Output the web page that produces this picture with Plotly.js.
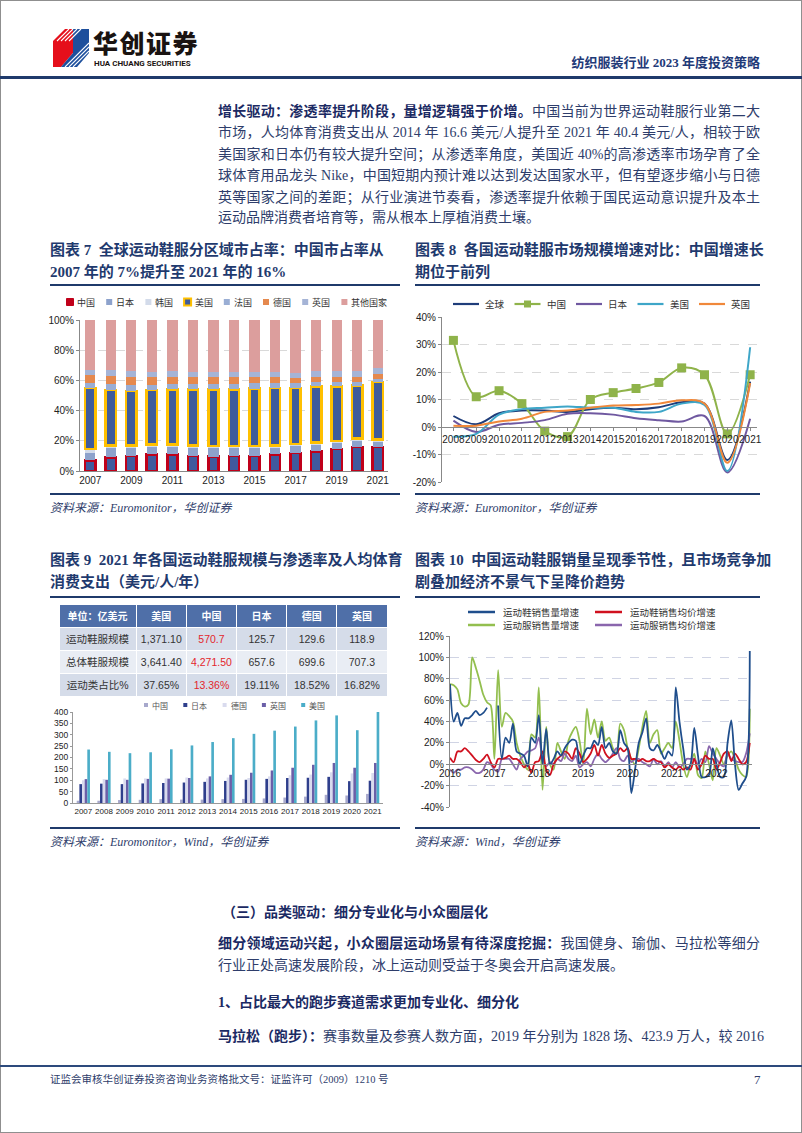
<!DOCTYPE html>
<html><head><meta charset="utf-8">
<script src="https://cdn.plot.ly/plotly-3.0.1.min.js"></script>
<style>
html,body{margin:0;padding:0;background:#fff;}
#page{position:relative;width:802px;height:1133px;overflow:hidden;font-family:"Liberation Serif","Noto Sans CJK SC",serif;color:#2e3d6b;}
.frame{position:absolute;left:0;top:0;width:800px;height:1131px;border:1px solid #8f8f8f;}
.t{position:absolute;white-space:nowrap;line-height:20px;font-size:14px;}
.j{text-align:justify;text-align-last:justify;width:542px;}
.b{font-weight:bold;color:#1b2a63;}
.rule{position:absolute;height:2px;background:#1f3a6b;}
.ct{position:absolute;white-space:nowrap;line-height:20px;font-weight:bold;font-size:15px;color:#1f3a6e;}
.src{position:absolute;white-space:nowrap;font-style:italic;font-size:12px;line-height:16px;color:#2e3d6b;}
.chart{position:absolute;}
</style></head>
<body><div id="page">
<div class="frame"></div>
<svg style="position:absolute;left:53px;top:29px" width="36" height="38" viewBox="0 0 36 38">
<polygon points="0,12 12,0 20,0 20,24 8,38 0,38" fill="#e50f1b"/>
<polygon points="20,0 36,0 36,24 24,38 8,38 20,24" fill="#1d4f9c"/>
<g stroke="#fff" stroke-width="1.1">
<line x1="4" y1="12" x2="16" y2="0"/><line x1="8" y1="12" x2="20" y2="0"/><line x1="12" y1="12" x2="24" y2="0"/><line x1="16" y1="12" x2="28" y2="0"/>
<line x1="12" y1="38" x2="36" y2="14"/><line x1="16" y1="38" x2="36" y2="18"/><line x1="20" y1="38" x2="36" y2="22"/>
</g></svg>
<div style="position:absolute;left:93px;top:30px;font-family:'Noto Sans CJK SC';font-weight:900;font-size:25px;line-height:25px;height:25px;color:#1a1311;letter-spacing:1.5px">华创证券</div>
<div style="position:absolute;left:94px;top:60px;font-family:'Roboto','Liberation Sans';font-weight:bold;font-size:8px;line-height:8px;color:#1a1311;">HUA CHUANG SECURITIES</div>
<div style="position:absolute;right:42px;top:54px;font-family:'Liberation Serif','Noto Sans CJK SC';font-weight:bold;font-size:13px;line-height:18px;color:#1f3a78;">纺织服装行业 2023 年度投资策略</div>
<div class="rule" style="left:0;top:76px;width:802px;height:3px;"></div>

<div class="t j" style="left:218px;top:102px"><span class="b">增长驱动：渗透率提升阶段，量增逻辑强于价增。</span>中国当前为世界运动鞋服行业第二大</div>
<div class="t j" style="left:218px;top:123px">市场，人均体育消费支出从 2014 年 16.6 美元/人提升至 2021 年 40.4 美元/人，相较于欧</div>
<div class="t j" style="left:218px;top:145px">美国家和日本仍有较大提升空间；从渗透率角度，美国近 40%的高渗透率市场孕育了全</div>
<div class="t j" style="left:218px;top:166px">球体育用品龙头 Nike，中国短期内预计难以达到发达国家水平，但有望逐步缩小与日德</div>
<div class="t j" style="left:218px;top:188px">英等国家之间的差距；从行业演进节奏看，渗透率提升依赖于国民运动意识提升及本土</div>
<div class="t" style="left:218px;top:208px">运动品牌消费者培育等，需从根本上厚植消费土壤。</div>

<div class="ct" style="left:50px;top:240px">图表 7&nbsp;&nbsp;全球运动鞋服分区域市占率：中国市占率从</div>
<div class="ct" style="left:50px;top:262px">2007 年的 7%提升至 2021 年的 16%</div>
<div class="ct" style="left:415px;top:240px">图表 8&nbsp;&nbsp;各国运动鞋服市场规模增速对比：中国增速长</div>
<div class="ct" style="left:415px;top:262px">期位于前列</div>
<div class="rule" style="left:50px;top:284px;width:350px"></div>
<div class="rule" style="left:415px;top:284px;width:345px"></div>
<div class="rule" style="left:50px;top:493px;width:350px"></div>
<div class="rule" style="left:415px;top:493px;width:345px"></div>
<div class="src" style="left:50px;top:500px">资料来源：Euromonitor，华创证券</div>
<div class="src" style="left:415px;top:500px">资料来源：Euromonitor，华创证券</div>

<div class="ct" style="left:50px;top:550px">图表 9&nbsp;&nbsp;2021 年各国运动鞋服规模与渗透率及人均体育</div>
<div class="ct" style="left:50px;top:572px">消费支出（美元/人/年）</div>
<div class="ct" style="left:415px;top:550px">图表 10&nbsp;&nbsp;中国运动鞋服销量呈现季节性，且市场竞争加</div>
<div class="ct" style="left:415px;top:572px">剧叠加经济不景气下呈降价趋势</div>
<div class="rule" style="left:50px;top:596px;width:350px"></div>
<div class="rule" style="left:415px;top:596px;width:345px"></div>
<div class="rule" style="left:50px;top:827px;width:350px"></div>
<div class="rule" style="left:415px;top:827px;width:345px"></div>
<div class="src" style="left:50px;top:834px">资料来源：Euromonitor，Wind，华创证券</div>
<div class="src" style="left:415px;top:834px">资料来源：Wind，华创证券</div>

<div class="t b" style="left:222px;top:903px">（三）品类驱动：细分专业化与小众圈层化</div>
<div class="t j" style="left:218px;top:934px"><span class="b">细分领域运动兴起，小众圈层运动场景有待深度挖掘：</span>我国健身、瑜伽、马拉松等细分</div>
<div class="t" style="left:218px;top:956px">行业正处高速发展阶段，冰上运动则受益于冬奥会开启高速发展。</div>
<div class="t b" style="left:218px;top:993px">1、占比最大的跑步赛道需求更加专业化、细分化</div>
<div class="t j" style="left:218px;top:1027px"><span class="b">马拉松（跑步）：</span>赛事数量及参赛人数方面，2019 年分别为 1828 场、423.9 万人，较 2016</div>

<div class="rule" style="left:0;top:1065px;width:802px;background:#2d4a7c"></div>
<div style="position:absolute;left:50px;top:1072px;font-size:10.5px;line-height:16px;color:#2e3d6b;white-space:nowrap">证监会审核华创证券投资咨询业务资格批文号：证监许可（2009）1210 号</div>
<div style="position:absolute;left:754px;top:1071px;font-size:13px;line-height:18px;color:#2e3d6b;">7</div>

<div id="c7" class="chart"></div>
<div id="c8" class="chart"></div>
<div id="c9" class="chart"></div>
<div id="c10" class="chart"></div>
</div>
<script>
// ---------------- Chart 7 data: market share (%) ----------------
var years7 = ['2007','2008','2009','2010','2011','2012','2013','2014','2015','2016','2017','2018','2019','2020','2021'];
var names7 = ['中国','日本','韩国','美国','法国','德国','英国','其他国家'];
var shareChina   = [7,9,10,11,11,10,9.5,10,10,11,12,13,14.5,16,16];
var shareJapan   = [5,6,5.5,5,5,5.5,5.5,5,5,4.5,4.5,4.5,4,4,3.5];
var shareKorea   = [2.5,2,1.5,1.5,1.5,1.5,1.5,1.5,1.5,1.5,1.5,1.5,1.5,1.5,1.5];
var shareUSA     = [40.5,36.5,36,36,36.5,37,37.5,37.5,38,38,37,37,36,35,38];
var shareFrance  = [3.5,4,4,3.5,3.5,3.5,3.5,3.5,3.5,3,3,3,3,2.5,2];
var shareGermany = [5,5.5,5,5,5,4.5,4.5,4.5,4,4,3.5,3.5,3.5,3.5,3.5];
var shareUK      = [3.5,4,4,3.5,3.5,3.5,3.5,3.5,3.5,3.5,3.5,3.5,3.5,3.5,3.5];
var shareOthers  = [33,33,34,34.5,34,34.5,34.5,34.5,34.5,34.5,35,34,34,34,32];
var ticks7 = ['2007','2009','2011','2013','2015','2017','2019','2021'];

// ---------------- Chart 8 data: growth (%) ----------------
var years8 = ['2008','2009','2010','2011','2012','2013','2014','2015','2016','2017','2018','2019','2020','2021'];
var names8 = ['全球','中国','日本','美国','英国'];
var growthGlobal = [4,1,5,6,6,5.5,6.5,7,6.5,7.2,9,8.5,-12,16.5];
var growthChina  = [31.5,11,13.2,8.5,-1.5,-3.5,10,12.5,14,16.2,21.5,19,-2.5,19];
var growthJapan  = [2.3,-1.8,0.8,1.5,2.5,4.8,5,4.5,3.2,2.5,2,4,-16.5,3];
var growthUSA    = [-3.5,-2.5,4.5,6.5,7,7.5,7,7,5.5,5.5,8.5,8,-16,29];
var growthUK     = [0.5,0.5,2,3,5.5,6,7,7.8,8,8.5,9.7,8.5,-13,16];
var ticks8 = [-20,-10,0,10,20,30,40];
var tickText8 = ['-20%','-10%','0%','10%','20%','30%','40%'];

// ---------------- Chart 9 data ----------------
var tableHeader = ['单位：亿美元','美国','中国','日本','德国','英国'];
var tableRows = ['运动鞋服规模','总体鞋服规模','运动类占比%'];
var sportSize = ['1,371.10','570.7','125.7','129.6','118.9'];
var totalSize = ['3,641.40','4,271.50','657.6','699.6','707.3'];
var sportShare = ['37.65%','13.36%','19.11%','18.52%','16.82%'];
var years9 = ['2007','2008','2009','2010','2011','2012','2013','2014','2015','2016','2017','2018','2019','2020','2021'];
var names9 = ['中国','日本','德国','英国','美国'];
var perChina   = [10,10,13,14,17,15,15,17,18,20,24,28,36,33,40];
var perJapan   = [83,85,83,86,88,90,93,97,102,106,110,111,115,96,98];
var perGermany = [100,105,108,108,108,112,108,112,110,117,122,125,135,130,132];
var perUK      = [105,102,102,106,107,110,117,124,133,143,155,168,176,155,176];
var perUSA     = [235,225,219,223,236,253,268,285,304,318,336,363,385,320,400];

// ---------------- Chart 10 data: monthly growth (%), 2016-01 onward ----------------
var names10 = ['运动鞋销售量增速','运动鞋销售均价增速','运动服销售量增速','运动服销售均价增速'];
var shoeVol = [75,40,48,36,43,43,46,50,46,48, 53,null,null,55,5,25,20,38,12,10, 8,-2,25,20,46,0,33,0,5,12, 8,15,20,23,22,0,8,15,15,22, 18,35,15,20,12,10,32,20,15,-27, -5,20,30,43,15,13,18,12,5,12, 8,72,40,15,-5,0,34,8,-12,-12, -10,15,0,-12,-12,20,41,0,-24,-18, -12,106];
var shoePrice = [6,2,12,12,15,12,8,4,2,5, 9,2,-3,5,5,6,8,5,5,2, -3,0,-8,2,3,12,-5,-10,0,5, 8,12,10,5,15,10,2,5,10,18, 8,18,10,6,8,10,15,12,15,5, 5,3,5,3,3,5,3,2,-3,0, -3,-5,-2,-5,-3,-5,5,-5,0,8, 5,5,-5,2,10,12,3,10,5,0, 2,20];
var clothVol = [75,74,70,57,54,56,100,90,78,65, 58,55,5,88,35,48,45,40,20,8, 0,-5,28,25,72,-24,35,0,-5,20, 12,5,22,30,35,22,0,52,28,42, 25,40,22,25,15,10,38,32,15,5, 0,15,35,50,20,28,32,10,15,20, 15,40,22,0,-12,0,10,-10,-13,12, 0,-15,15,8,0,8,12,5,-5,-10, -12,52];
var clothPrice = [-5,-8,-5,-5,-3,-3,-5,-8,-8,-5, 2,0,-5,-7,5,5,5,0,-5,5, 8,12,13,15,25,5,-2,2,0,5, 3,10,5,3,8,-3,0,2,-2,5, 10,5,2,5,10,15,5,3,8,2, 5,5,2,0,-2,5,0,3,-2,2, -3,2,-3,0,5,5,5,0,5,2, 17,10,5,0,-2,10,5,3,2,2, 10,29];
var yearTicks10 = [0,12,24,36,48,60,72];
var yearLabels10 = ['2016','2017','2018','2019','2020','2021','2022'];
var ticks10 = [-40,-20,0,20,40,60,80,100,120];
var tickText10 = ['-40%','-20%','0%','20%','40%','60%','80%','100%','120%'];

// ---------------- helpers ----------------
function pw(f){return f.w-f.m.l-f.m.r;}
function ph(f){return f.h-f.m.t-f.m.b;}
function PX(f,X){return (X-f.l-f.m.l)/pw(f);}
function PY(f,Y){return (f.t+f.h-f.m.b-Y)/ph(f);}
function sq(f,X,Y,s,fill,line,lw){return {type:'rect',xref:'paper',yref:'paper',x0:PX(f,X-s/2),x1:PX(f,X+s/2),y0:PY(f,Y+s/2),y1:PY(f,Y-s/2),fillcolor:fill,line:{color:line||fill,width:lw||0},layer:'above'};}
function ln(f,X0,X1,Y,color,w){return {type:'line',xref:'paper',yref:'paper',x0:PX(f,X0),x1:PX(f,X1),y0:PY(f,Y),y1:PY(f,Y),line:{color:color,width:w},layer:'above'};}
function txt(f,X,Y,s,size,color){return {text:s,showarrow:false,xref:'paper',yref:'paper',x:PX(f,X),y:PY(f,Y),xanchor:'left',yanchor:'middle',font:{family:'Noto Sans CJK SC',size:size,color:color||'#333'}};}
function place(id,f){var el=document.getElementById(id);el.style.left=f.l+'px';el.style.top=f.t+'px';el.style.width=f.w+'px';el.style.height=f.h+'px';return el;}
var cfg={staticPlot:true,displayModeBar:false};
var tickFont={family:'Liberation Sans, Arial',size:10,color:'#222'};
function baseLayout(f){return {width:f.w,height:f.h,margin:{l:f.m.l,r:f.m.r,t:f.m.t,b:f.m.b,pad:0},paper_bgcolor:'rgba(0,0,0,0)',plot_bgcolor:'rgba(0,0,0,0)',showlegend:false,font:{family:'Liberation Sans, Arial',color:'#222'}};}

// ---------------- Chart 7 ----------------
(function(){
  var f={l:40,t:290,w:360,h:200,m:{l:40,r:12,t:30,b:19}};
  var series=[shareChina,shareJapan,shareKorea,shareUSA,shareFrance,shareGermany,shareUK,shareOthers];
  var fills=['#3f5a9e','#8da2cc','#d3dbea','#3f5c9b','#9aaed4','#e5894e','#a5b4d6','#dc9e9d'];
  var lines=['#c0001a',null,null,'#ffc000',null,null,null,null];
  var traces=series.map(function(v,i){
    return {type:'bar',x:years7,y:v,name:names7[i],marker:{color:fills[i],line:{color:lines[i]||fills[i],width:lines[i]?2.5:0}}};
  });
  var L=baseLayout(f);
  L.barmode='stack'; L.bargap=0.5;
  L.xaxis={type:'category',range:[-0.5,14.5],tickvals:ticks7,tickangle:0,showline:true,linecolor:'#888',linewidth:1,ticks:'',tickfont:tickFont,showgrid:false,zeroline:false};
  L.yaxis={range:[0,100],tickvals:[0,20,40,60,80,100],ticktext:['0%','20%','40%','60%','80%','100%'],showline:true,linecolor:'#888',ticks:'outside',ticklen:3,tickcolor:'#888',tickfont:tickFont,gridcolor:'#d9d9d9',griddash:'dash',zeroline:false};
  var shapes=[],ann=[];
  names7.forEach(function(n,i){
    var X=70+i*39.2, Y=302;
    if(i===0) shapes.push(sq(f,X,Y,7,'#c0001a','#c0001a',1));
    else if(i===3) shapes.push(sq(f,X,Y,7,'#3f5c9b','#ffc000',2));
    else shapes.push(sq(f,X,Y,6,fills[i]));
    ann.push(txt(f,X+5,Y,n,9,'#333'));
  });
  L.shapes=shapes; L.annotations=ann;
  Plotly.newPlot(place('c7',f),traces,L,cfg);
})();

// ---------------- Chart 8 ----------------
(function(){
  var f={l:410,t:290,w:370,h:200,m:{l:32,r:23,t:27,b:8}};
  var series=[growthGlobal,growthChina,growthJapan,growthUSA,growthUK];
  var colors=['#1f3d7a','#8fb34a','#6f58a0','#3ea6c8','#f0883a'];
  var traces=series.map(function(v,i){
    var t={type:'scatter',mode:i===1?'lines+markers':'lines',x:years8,y:v,name:names8[i],line:{color:colors[i],width:2,shape:'spline',smoothing:1}};
    if(i===1) t.marker={symbol:'square',size:9,color:'#8fb34a'};
    return t;
  });
  var L=baseLayout(f);
  L.xaxis={type:'category',range:[-0.5,13.3],anchor:'free',position:20/60,tickangle:0,showline:true,linecolor:'#888',ticks:'outside',ticklen:3,tickcolor:'#888',tickfont:tickFont,showgrid:false,zeroline:false};
  L.yaxis={range:[-20,40],tickvals:ticks8,ticktext:tickText8,showline:true,linecolor:'#888',ticks:'outside',ticklen:3,tickcolor:'#888',tickfont:tickFont,gridcolor:'#d9d9d9',griddash:'dash',zeroline:false};
  var shapes=[],ann=[];
  names8.forEach(function(n,i){
    var X=453+i*61.5, Y=304;
    shapes.push(ln(f,X,X+26,Y,colors[i],2.2));
    if(i===1) shapes.push(sq(f,X+13,Y,7,'#8fb34a'));
    ann.push(txt(f,X+30,Y,n,9.5,'#333'));
  });
  L.shapes=shapes; L.annotations=ann;
  Plotly.newPlot(place('c8',f),traces,L,cfg);
})();

// ---------------- Chart 9 ----------------
(function(){
  var f={l:40,t:598,w:360,h:228,m:{l:19,r:13,t:6,b:23}};
  var rowFill=['#d5dce9','#e9edf4','#d5dce9'];
  var cols=[tableRows];
  for(var k=0;k<sportSize.length;k++) cols.push([sportSize[k],totalSize[k],sportShare[k]]);
  var fontColors=cols.map(function(c,i){return tableHeader[i]==='中国'?'#e3262c':'#333';});
  var table={type:'table',domain:{x:[0,1],y:[PY(f,697),1]},columnwidth:[77,50,50,50,50,50],
    header:{values:tableHeader,height:23,fill:{color:'#4f6fa8'},line:{color:'#fff',width:1},align:'center',font:{family:'Noto Sans CJK SC',size:10,color:'#fff',weight:'bold'}},
    cells:{values:cols,height:23,fill:{color:cols.map(function(){return rowFill;})},line:{color:'#fff',width:1},align:'center',font:{family:'Liberation Sans, Noto Sans CJK SC',size:10.5,color:fontColors}}};
  var series=[perChina,perJapan,perGermany,perUK,perUSA];
  var colors=['#a7a8cc','#2f3f8c','#d9dbee','#6b5fa8','#4badc8'];
  var traces=[table].concat(series.map(function(v,i){return {type:'bar',x:years9,y:v,name:names9[i],marker:{color:colors[i]}};}));
  var L=baseLayout(f);
  L.barmode='group'; L.bargap=0.36; L.bargroupgap=0;
  var tf={family:'Liberation Sans, Arial',size:8,color:'#222'};
  L.xaxis={type:'category',domain:[PX(f,73),PX(f,383)],tickangle:0,showline:true,linecolor:'#999',ticks:'',tickfont:tf,showgrid:false,zeroline:false};
  L.yaxis={domain:[0,PY(f,712)],range:[0,400],dtick:50,showline:true,linecolor:'#999',ticks:'outside',ticklen:2,tickcolor:'#999',tickfont:{family:'Liberation Sans, Arial',size:8.5,color:'#222'},showgrid:false,zeroline:false};
  var shapes=[],ann=[];
  names9.forEach(function(n,i){
    var X=146+i*39.3, Y=705;
    shapes.push(sq(f,X,Y,4,colors[i]));
    ann.push(txt(f,X+4,Y,n,8,'#555'));
  });
  L.shapes=shapes; L.annotations=ann;
  Plotly.newPlot(place('c9',f),traces,L,cfg);
})();

// ---------------- Chart 10 ----------------
(function(){
  var f={l:410,t:600,w:370,h:226,m:{l:40,r:28,t:36,b:19}};
  var series=[shoeVol,shoePrice,clothVol,clothPrice];
  var colors=['#1f4e8c','#d0101e','#93bf4f','#8a66ad'];
  var monthIdx=shoeVol.map(function(_,i){return i;});
  var traces=[2,3,1,0].map(function(i){
    return {type:'scatter',mode:'lines',x:monthIdx,y:series[i],name:names10[i],connectgaps:false,line:{color:colors[i],width:1.8,shape:'spline',smoothing:0.8}};
  });
  var L=baseLayout(f);
  L.xaxis={range:[0,81.6],tickvals:yearTicks10,ticktext:yearLabels10,tickangle:0,anchor:'free',position:40/160,showline:true,linecolor:'#888',ticks:'',tickfont:tickFont,showgrid:false,zeroline:false};
  L.yaxis={range:[-40,120],tickvals:ticks10,ticktext:tickText10,showline:true,linecolor:'#888',ticks:'outside',ticklen:3,tickcolor:'#888',tickfont:tickFont,gridcolor:'#d0d4e4',griddash:'dash',zeroline:false};
  var shapes=[],ann=[];
  var pos=[[468,612],[595,612],[468,625],[595,625]];
  names10.forEach(function(n,i){
    var X=pos[i][0],Y=pos[i][1];
    shapes.push(ln(f,X,X+27,Y,colors[i],2.5));
    ann.push(txt(f,X+33,Y,n,9.5,'#333'));
  });
  L.shapes=shapes; L.annotations=ann;
  Plotly.newPlot(place('c10',f),traces,L,cfg);
})();
</script>
</body></html>
